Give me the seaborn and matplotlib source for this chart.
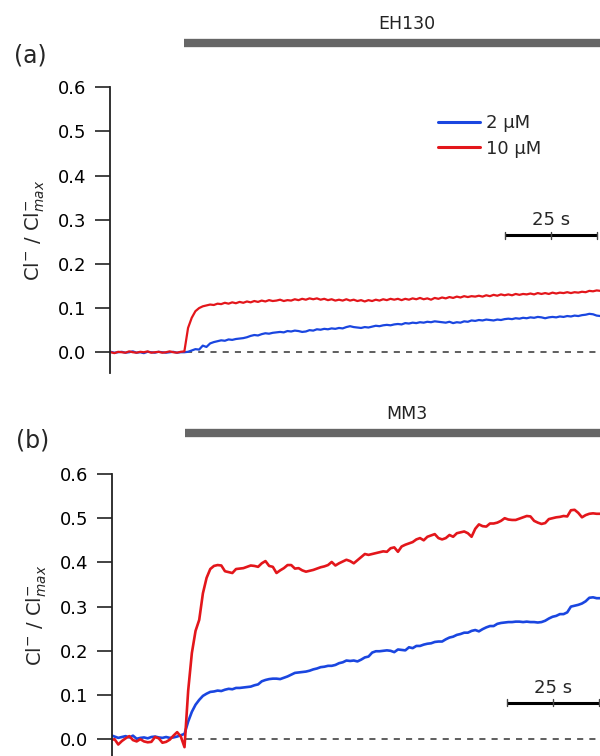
import numpy as np
import pandas as pd
import matplotlib
matplotlib.use("Agg")
import matplotlib.pyplot as plt
import matplotlib.transforms as mtransforms
from matplotlib.ticker import FormatStrFormatter
from matplotlib.lines import Line2D
import seaborn as sns

# ---------------- data ----------------
time_s = list(range(-20, 114))  # seconds relative to drug application

eh130_2uM = [0.001, -0.001, 0.000, 0.001, -0.001, 0.000, 0.002, -0.001, 0.000, -0.002,
             0.001, 0.000, -0.001, 0.001, 0.000, -0.001, 0.000, 0.001, -0.001, 0.000,
             0.000, 0.001, 0.004, 0.007, 0.006, 0.015, 0.012, 0.020, 0.023, 0.025,
             0.027, 0.026, 0.029, 0.028, 0.030, 0.031, 0.032, 0.034, 0.037, 0.039,
             0.038, 0.041, 0.043, 0.042, 0.044, 0.045, 0.046, 0.045, 0.048, 0.047,
             0.049, 0.048, 0.046, 0.047, 0.050, 0.049, 0.052, 0.051, 0.053, 0.052,
             0.054, 0.053, 0.055, 0.054, 0.057, 0.059, 0.057, 0.056, 0.055, 0.057,
             0.056, 0.058, 0.060, 0.059, 0.061, 0.062, 0.061, 0.063, 0.064, 0.063,
             0.066, 0.065, 0.067, 0.066, 0.068, 0.067, 0.069, 0.068, 0.070, 0.069,
             0.068, 0.067, 0.069, 0.066, 0.068, 0.067, 0.070, 0.069, 0.072, 0.071,
             0.073, 0.072, 0.074, 0.073, 0.072, 0.074, 0.073, 0.075, 0.076, 0.075,
             0.077, 0.076, 0.078, 0.077, 0.079, 0.078, 0.080, 0.079, 0.077, 0.079,
             0.080, 0.079, 0.081, 0.080, 0.082, 0.081, 0.083, 0.082, 0.084, 0.085,
             0.087, 0.086, 0.083, 0.082]

eh130_10uM = [0.000, -0.002, 0.001, 0.000, -0.001, 0.002, 0.000, -0.001, 0.001, 0.000,
              0.002, -0.001, 0.000, 0.001, -0.001, 0.000, 0.002, 0.000, -0.001, 0.001,
              0.002, 0.055, 0.078, 0.093, 0.100, 0.104, 0.106, 0.108, 0.107, 0.110,
              0.109, 0.112, 0.110, 0.113, 0.111, 0.114, 0.112, 0.115, 0.113, 0.116,
              0.114, 0.117, 0.115, 0.118, 0.116, 0.117, 0.119, 0.116, 0.118, 0.117,
              0.120, 0.118, 0.121, 0.119, 0.122, 0.120, 0.122, 0.119, 0.121, 0.118,
              0.120, 0.117, 0.119, 0.117, 0.120, 0.117, 0.119, 0.116, 0.118, 0.115,
              0.118, 0.116, 0.119, 0.117, 0.120, 0.118, 0.121, 0.119, 0.121, 0.118,
              0.121, 0.119, 0.122, 0.120, 0.123, 0.120, 0.122, 0.119, 0.123, 0.121,
              0.124, 0.122, 0.125, 0.123, 0.126, 0.124, 0.127, 0.125, 0.127, 0.126,
              0.128, 0.126, 0.129, 0.127, 0.130, 0.128, 0.131, 0.129, 0.131, 0.129,
              0.132, 0.130, 0.132, 0.131, 0.133, 0.131, 0.134, 0.132, 0.134, 0.132,
              0.135, 0.133, 0.135, 0.134, 0.136, 0.134, 0.136, 0.135, 0.137, 0.136,
              0.139, 0.138, 0.140, 0.139]

mm3_2uM = [0.009, 0.006, 0.003, 0.005, 0.007, 0.004, 0.008, 0.001, 0.003, 0.004,
           0.002, 0.005, 0.006, 0.004, 0.003, 0.005, 0.003, 0.004, 0.006, 0.009,
           0.012, 0.040, 0.062, 0.078, 0.089, 0.098, 0.103, 0.107, 0.108, 0.110,
           0.109, 0.112, 0.114, 0.113, 0.116, 0.116, 0.117, 0.118, 0.119, 0.122,
           0.124, 0.131, 0.134, 0.136, 0.137, 0.137, 0.136, 0.139, 0.142, 0.146,
           0.150, 0.151, 0.152, 0.153, 0.155, 0.158, 0.160, 0.163, 0.164, 0.166,
           0.166, 0.168, 0.172, 0.174, 0.178, 0.177, 0.178, 0.176, 0.180, 0.185,
           0.187, 0.196, 0.199, 0.199, 0.200, 0.201, 0.200, 0.197, 0.203, 0.202,
           0.201, 0.208, 0.206, 0.211, 0.211, 0.214, 0.216, 0.217, 0.220, 0.221,
           0.221, 0.226, 0.230, 0.232, 0.236, 0.238, 0.241, 0.241, 0.245, 0.247,
           0.244, 0.249, 0.253, 0.256, 0.256, 0.261, 0.263, 0.264, 0.265, 0.265,
           0.266, 0.266, 0.265, 0.266, 0.265, 0.265, 0.264, 0.265, 0.268, 0.273,
           0.277, 0.279, 0.283, 0.283, 0.287, 0.300, 0.302, 0.304, 0.307, 0.312,
           0.320, 0.321, 0.319, 0.319]

mm3_10uM = [-0.002, 0.000, -0.012, -0.004, 0.002, 0.007, -0.002, -0.005, 0.000, -0.005,
            -0.007, -0.006, 0.005, 0.002, -0.008, -0.006, -0.001, 0.008, 0.016, 0.006,
            -0.018, 0.110, 0.195, 0.245, 0.270, 0.330, 0.365, 0.385, 0.392, 0.394,
            0.393, 0.380, 0.378, 0.376, 0.385, 0.386, 0.387, 0.390, 0.393, 0.392,
            0.390, 0.398, 0.403, 0.392, 0.390, 0.376, 0.382, 0.387, 0.394, 0.394,
            0.386, 0.387, 0.382, 0.379, 0.381, 0.383, 0.386, 0.389, 0.391, 0.394,
            0.401, 0.393, 0.398, 0.402, 0.406, 0.403, 0.398, 0.405, 0.412, 0.419,
            0.417, 0.419, 0.421, 0.423, 0.425, 0.424, 0.432, 0.434, 0.424, 0.436,
            0.440, 0.443, 0.446, 0.452, 0.455, 0.450, 0.458, 0.461, 0.464, 0.455,
            0.452, 0.455, 0.462, 0.458, 0.466, 0.468, 0.470, 0.466, 0.458, 0.476,
            0.486, 0.482, 0.481, 0.488, 0.488, 0.490, 0.494, 0.500, 0.497, 0.496,
            0.496, 0.499, 0.502, 0.505, 0.504, 0.494, 0.490, 0.487, 0.489, 0.498,
            0.500, 0.502, 0.503, 0.505, 0.504, 0.518, 0.519, 0.512, 0.502, 0.507,
            0.510, 0.511, 0.510, 0.510]

conc_labels = ["2 µM", "10 µM"]
panel_labels = ["(a)", "(b)"]
compound_names = ["EH130", "MM3"]
y_ticks = [0.0, 0.1, 0.2, 0.3, 0.4, 0.5, 0.6]
scalebar_text = "25 s"
scalebar_len = 25

# ---------------- style ----------------
sns.set_style("white")
plt.rcParams["font.family"] = ["DejaVu Sans"]
plt.rcParams["mathtext.fontset"] = "dejavusans"

blue = "#1a46e0"
red = "#e3161b"
palette = {conc_labels[0]: blue, conc_labels[1]: red}

fig = plt.figure(figsize=(6.0, 7.56), dpi=100)
W, H = 600, 756

def ax_rect(left_px, top_px, bottom_px):
    return [left_px / W, 1 - bottom_px / H, (W - left_px) / W, (bottom_px - top_px) / H]

ax_a = fig.add_axes(ax_rect(110, 87.3, 373))
ax_b = fig.add_axes(ax_rect(112, 474, 756))

panels = [
    (ax_a, eh130_2uM, eh130_10uM, (-0.047, 0.6), (-20.2, 112.9), 1.6),
    (ax_b, mm3_2uM, mm3_10uM, (-0.038, 0.6), (-19.7, 112.9), 1.9),
]

def build_df(s2, s10):
    return pd.DataFrame({
        "t": time_s * 2,
        "v": list(s2) + list(s10),
        "conc": [conc_labels[0]] * len(time_s) + [conc_labels[1]] * len(time_s),
    })

for i, (ax, s2, s10, ylim, xlim, lw) in enumerate(panels):
    df = build_df(s2, s10)
    sns.lineplot(data=df, x="t", y="v", hue="conc", hue_order=conc_labels,
                 palette=palette, estimator=None, linewidth=lw, ax=ax,
                 legend=False)
    # zero baseline after application
    ax.plot([0.5, xlim[1] + 5], [0, 0], color="#333333", lw=1.1,
            dashes=(4, 4), zorder=0)
    ax.set_ylim(*ylim)
    ax.set_xlim(*xlim)
    ax.set_xticks([])
    ax.set_xlabel("")
    ax.set_yticks(y_ticks)
    ax.yaxis.set_major_formatter(FormatStrFormatter("%.1f"))
    for s in ["top", "right", "bottom"]:
        ax.spines[s].set_visible(False)
    ax.spines["left"].set_color("#222222")
    ax.spines["left"].set_linewidth(1.3)
    ax.tick_params(axis="y", direction="out", length=11, width=1.2,
                   colors="#222222", labelsize=13, pad=6, left=True)
    ax.tick_params(axis="y", labelcolor="black")
    ax.set_ylabel(r"Cl$^{-}$ / Cl$^{-}_{max}$", fontsize=14, labelpad=8)
    ax.patch.set_alpha(0)

    # application bar + compound name
    trans = mtransforms.blended_transform_factory(ax.transData, ax.transAxes)
    bar_y = 1.155 if i == 0 else 1.145
    ax.plot([0, xlim[1] + 5], [bar_y, bar_y], color="#666666", lw=6,
            solid_capstyle="butt", transform=trans, clip_on=False)
    ax.text(60.5, bar_y + 0.066, compound_names[i], transform=trans,
            ha="center", va="center", fontsize=12.5, color="#222222")

    # panel letter
    ax.text(-0.196, 1.11 if i == 0 else 1.12, panel_labels[i],
            transform=ax.transAxes, ha="left", va="center", fontsize=17)

    # scale bar
    sb_y = 0.265 if i == 0 else 0.082
    sb_x0 = 87.1 if i == 0 else 87.6
    sb_x1 = sb_x0 + scalebar_len
    ax.plot([sb_x0, sb_x1], [sb_y, sb_y], color="black", lw=2.2,
            solid_capstyle="butt", clip_on=False)
    for xx in [sb_x0, (sb_x0 + sb_x1) / 2, sb_x1]:
        ax.plot([xx, xx], [sb_y - 0.008, sb_y + 0.008], color="#444444",
                lw=1, clip_on=False)
    ax.text((sb_x0 + sb_x1) / 2, sb_y + 0.014, scalebar_text, ha="center",
            va="bottom", fontsize=13)

# legend in panel (a)
handles = [Line2D([0], [0], color=blue, lw=2.2),
           Line2D([0], [0], color=red, lw=2.2)]
ax_a.legend(handles, conc_labels, loc="center left",
            bbox_to_anchor=((438 - 110) / 490, (373 - 136) / 285.7),
            frameon=False, fontsize=13, handlelength=2.3, handletextpad=0.35,
            labelspacing=0.4, borderpad=0, borderaxespad=0)

fig.savefig("out.png", dpi=100)
